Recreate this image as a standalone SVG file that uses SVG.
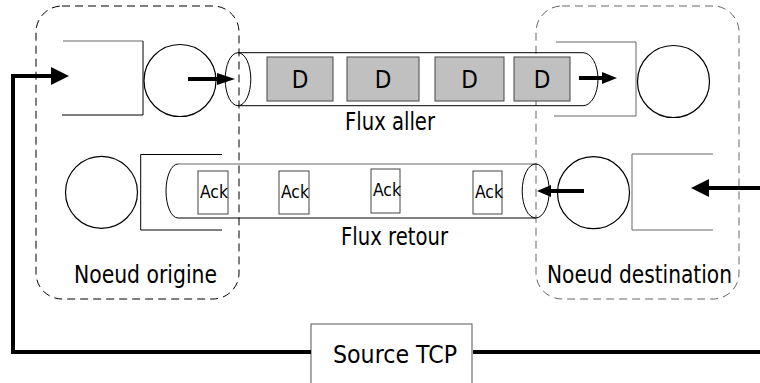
<svg xmlns="http://www.w3.org/2000/svg" width="760" height="383" viewBox="0 0 760 383">
<style>
.ln{fill:none;stroke:#000;stroke-width:1}
.gr{fill:none;stroke:#666;stroke-width:1}
.circ{fill:#fff;stroke:#000;stroke-width:1.2}
.dash{fill:none;stroke-width:1;stroke-dasharray:8,5}
.thick{fill:none;stroke:#000;stroke-width:4}
.head{fill:#000;stroke:none}
.pkt{fill:#c0c0c0;stroke:#444;stroke-width:1}
.ack{fill:#fff;stroke:#444;stroke-width:1}
.t{font-family:"DejaVu Sans Condensed","DejaVu Sans",sans-serif;fill:#000}
</style>
<rect width="760" height="383" fill="#fff"/>

<g id="noeud-origine">
  <rect class="dash" x="36" y="6" width="203" height="293" rx="26" ry="26" stroke="#000"/>
  <text class="t" x="74" y="283" font-size="25" textLength="143" lengthAdjust="spacingAndGlyphs">Noeud origine</text>
</g>
<g id="noeud-destination">
  <rect class="dash" x="536" y="6" width="203" height="293" rx="26" ry="26" stroke="#666"/>
  <text class="t" x="547" y="283" font-size="25" textLength="185" lengthAdjust="spacingAndGlyphs">Noeud destination</text>
</g>

<g id="file-origine-aller">
  <path class="gr" d="M63,41 H143"/>
  <path class="ln" d="M143,41 V115 H62"/>
</g>
<g id="routeur-origine-aller">
  <circle class="circ" cx="180" cy="80.5" r="36"/>
</g>

<g id="flux-aller">
  <path class="ln" d="M238,52.7 H583 A15,26.5 0 0 1 583,105.7 H238"/>
  <ellipse class="ln" cx="238" cy="79.2" rx="12.8" ry="26.5" fill="#fff"/>
  <rect class="pkt" x="267" y="57" width="66" height="44"/>
  <rect class="pkt" x="347" y="57" width="72" height="44"/>
  <rect class="pkt" x="435" y="57" width="69" height="44"/>
  <rect class="pkt" x="514" y="57" width="56" height="44"/>
  <text class="t" x="300" y="88" font-size="24" text-anchor="middle">D</text>
  <text class="t" x="383" y="88" font-size="24" text-anchor="middle">D</text>
  <text class="t" x="469.5" y="88" font-size="24" text-anchor="middle">D</text>
  <text class="t" x="542" y="88" font-size="24" text-anchor="middle">D</text>
  <text class="t" x="345" y="130" font-size="24" textLength="90" lengthAdjust="spacingAndGlyphs">Flux aller</text>
</g>

<g id="file-destination-aller">
  <path class="gr" d="M556,42 H636 V116 H554"/>
</g>
<g id="routeur-destination-aller">
  <circle class="circ" cx="673.5" cy="81.5" r="36"/>
</g>

<g id="routeur-origine-retour">
  <circle class="circ" cx="101.5" cy="192.3" r="36"/>
</g>
<g id="file-origine-retour">
  <path class="ln" d="M222,154.5 H140.7 V230 H222"/>
</g>

<g id="flux-retour">
  <path class="gr" d="M535.7,164 H178"/>
  <path class="ln" d="M178,164 A12,27 0 0 0 178,218 H535.7"/>
  <ellipse class="ln" cx="535.7" cy="191" rx="13.5" ry="27" fill="#fff"/>
  <rect class="ack" x="198" y="171" width="30" height="43"/>
  <rect class="ack" x="279" y="171" width="30" height="43"/>
  <rect class="ack" x="371" y="169" width="29" height="44"/>
  <rect class="ack" x="473" y="171" width="29" height="43"/>
  <text class="t" x="200" y="198" font-size="18" textLength="28" lengthAdjust="spacingAndGlyphs">Ack</text>
  <text class="t" x="281" y="198" font-size="18" textLength="28" lengthAdjust="spacingAndGlyphs">Ack</text>
  <text class="t" x="373" y="196" font-size="18" textLength="28" lengthAdjust="spacingAndGlyphs">Ack</text>
  <text class="t" x="475" y="198" font-size="18" textLength="28" lengthAdjust="spacingAndGlyphs">Ack</text>
  <text class="t" x="341" y="245" font-size="24" textLength="107" lengthAdjust="spacingAndGlyphs">Flux retour</text>
</g>

<g id="routeur-destination-retour">
  <circle class="circ" cx="593.5" cy="192.7" r="36"/>
</g>
<g id="file-destination-retour">
  <path class="gr" d="M713,154 H632 V230 H713"/>
</g>

<g id="source-tcp">
  <rect x="311" y="324" width="161" height="70" fill="#fff" stroke="#555" stroke-width="1"/>
  <text class="t" x="333" y="363" font-size="24" textLength="124" lengthAdjust="spacingAndGlyphs">Source TCP</text>
</g>

<g id="connecteurs">
  <path class="thick" d="M311,352 H13 V76 H52"/>
  <polygon class="head" points="51,67 69,76 51,85"/>
  <path class="thick" d="M473,352 H770 V188 H708"/>
  <polygon class="head" points="709,179 691,188 709,197"/>
  <path class="thick" d="M188,79 H222"/>
  <polygon class="head" points="217,73 235,79 217,85"/>
  <path class="thick" d="M579,78 H604"/>
  <polygon class="head" points="602,72 617,78 602,84"/>
  <path class="thick" d="M584,191 H549"/>
  <polygon class="head" points="551,185 537,191 551,197"/>
</g>
</svg>
